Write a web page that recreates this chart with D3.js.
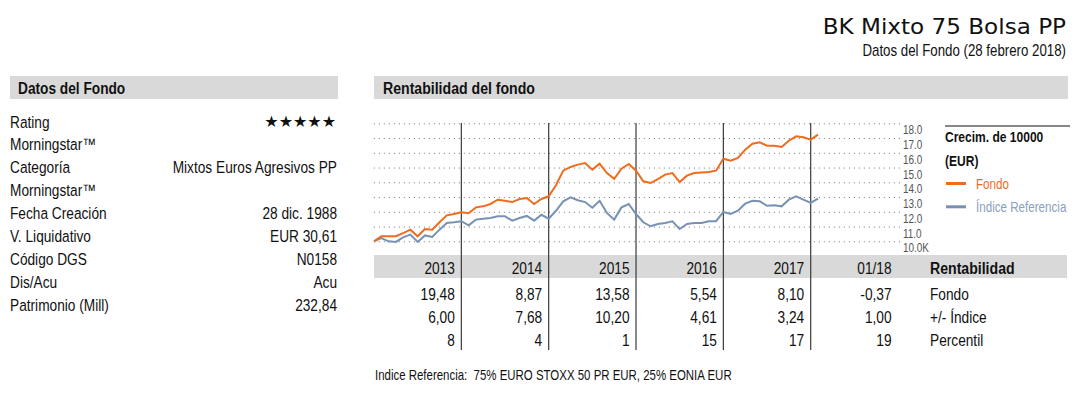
<!DOCTYPE html>
<html>
<head>
<meta charset="utf-8">
<script src="https://cdn.jsdelivr.net/npm/d3@7"></script>
<style>
  body { margin: 0; background: #fff; }
  svg { display: block; }
  text { font-family: "Liberation Sans", Arial, sans-serif; fill: #111; }
</style>
</head>
<body>
<script>
const width = 1082, height = 405;
const NARROW = 0.83; // squeeze Liberation Sans into a narrow face

// growth of 10000 (thousands), month-end values Jan 2013 .. Feb 2018
const fondo = [10.0, 10.34, 10.34, 10.34, 10.56, 10.79, 10.34, 10.83, 10.79, 11.29, 11.76, 11.85,
  11.97, 11.9, 12.3, 12.37, 12.53, 12.82, 12.75, 12.66, 12.87, 12.94, 12.53, 12.87,
  13.05, 13.8, 14.79, 15.04, 15.2, 15.31, 14.86, 15.26, 14.63, 14.24, 14.92, 15.24,
  14.79, 14.07, 13.95, 14.22, 14.52, 14.63, 14.02, 14.45, 14.63, 14.66,
  14.7, 14.79, 15.6, 15.46, 15.65, 16.21, 16.62, 16.71, 16.48, 16.48, 16.39, 16.82,
  17.12, 17.05, 16.89, 17.23];
const indice = [10.0, 10.22, 10.0, 9.96, 10.27, 10.45, 9.96, 10.4, 10.29, 10.79, 11.24, 11.29,
  11.36, 11.08, 11.47, 11.53, 11.58, 11.69, 11.69, 11.4, 11.58, 11.72, 11.4, 11.8,
  11.53, 12.07, 12.71, 12.98, 12.78, 12.66, 12.28, 12.75, 11.92, 11.47, 12.3, 12.53,
  11.85, 11.29, 11.02, 11.17, 11.24, 11.36, 10.83, 11.17, 11.24, 11.24,
  11.36, 11.36, 11.99, 11.85, 12.07, 12.55, 12.75, 12.71, 12.41, 12.44, 12.37, 12.82,
  13.05, 12.82, 12.6, 12.89];
const yTicks = [10, 11, 12, 13, 14, 15, 16, 17, 18];

const periods = ["2013", "2014", "2015", "2016", "2017", "01/18"];
const rentFondo = ["19,48", "8,87", "13,58", "5,54", "8,10", "-0,37"];
const rentIndice = ["6,00", "7,68", "10,20", "4,61", "3,24", "1,00"];
const percentil = ["8", "4", "1", "15", "17", "19"];
const rowLabels = ["Fondo", "+/- Índice", "Percentil"];

const datosLabels = ["Rating", "Morningstar™", "Categoría", "Morningstar™", "Fecha Creación",
  "V. Liquidativo", "Código DGS", "Dis/Acu", "Patrimonio (Mill)"];
const datosValues = ["", "", "Mixtos Euros Agresivos PP", "", "28 dic. 1988",
  "EUR 30,61", "N0158", "Acu", "232,84"];
const rating = "★★★★★";

const orange = "#ef6c1f", blue = "#7892b5";

const svg = d3.select("body").append("svg")
  .attr("width", width).attr("height", height);

// narrow text helper
function nt(g, x, y, str, size, opts = {}) {
  const t = g.append("text")
    .attr("transform", `translate(${x},${y}) scale(${opts.sx || NARROW},1)`)
    .style("font-size", size + "px")
    .text(str);
  if (opts.anchor) t.attr("text-anchor", opts.anchor);
  if (opts.bold) t.style("font-weight", "bold");
  if (opts.fill) t.style("fill", opts.fill);
  if (opts.family) t.style("font-family", opts.family);
  return t;
}

// title
nt(svg, 1066, 34, "BK Mixto 75 Bolsa PP", 21, { anchor: "end", sx: 1.1, family: "'DejaVu Sans', sans-serif" });
nt(svg, 1066, 55.5, "Datos del Fondo (28 febrero 2018)", 16, { anchor: "end" });

// section headers
svg.append("rect").attr("x", 10).attr("y", 76).attr("width", 328).attr("height", 23).attr("fill", "#d9d9d9");
nt(svg, 18, 93.5, "Datos del Fondo", 16.5, { bold: true });
svg.append("rect").attr("x", 374).attr("y", 76).attr("width", 694).attr("height", 23).attr("fill", "#d9d9d9");
nt(svg, 383, 93.5, "Rentabilidad del fondo", 17, { bold: true });

// left panel
const rowY = d3.scaleLinear().domain([0, 8]).range([127.5, 311]);
const left = svg.append("g");
datosLabels.forEach((d, i) => nt(left, 10, rowY(i), d, 16.5));
datosValues.forEach((d, i) => { if (d) nt(left, 337, rowY(i), d, 16.5, { anchor: "end" }); });
left.append("text").attr("x", 336).attr("y", rowY(0) - 0.5).attr("text-anchor", "end")
  .style("font-family", "'DejaVu Sans', sans-serif").style("font-size", "16px").text(rating);

// chart
const x = d3.scaleLinear().domain([0, 60]).range([374, 810.7]);
const y = d3.scaleLinear().domain([10, 18]).range([241.3, 123.3]);

const yAxis = svg.append("g")
  .attr("transform", "translate(900,0)")
  .call(d3.axisRight(y).tickValues(yTicks).tickSize(-527)
    .tickFormat(d => d === 10 ? "10.0K" : d3.format(".1f")(d)));
yAxis.select(".domain").remove();
yAxis.selectAll(".tick line")
  .attr("stroke", "#8a8a8a").attr("stroke-dasharray", "1.2,3.8");
yAxis.selectAll(".tick text")
  .attr("x", 0).attr("dy", 0)
  .attr("transform", `translate(3,10.5) scale(${NARROW},1)`)
  .style("font-size", "12px").style("fill", "#555");

// table header band
svg.append("rect").attr("x", 374).attr("y", 255).attr("width", 693).attr("height", 23).attr("fill", "#d9d9d9");

// year separators
svg.append("g").selectAll("line").data([12, 24, 36, 48, 60]).join("line")
  .attr("x1", d => x(d)).attr("x2", d => x(d))
  .attr("y1", 123).attr("y2", 350)
  .attr("stroke", "#3a3a3a").attr("stroke-width", 1.2);

const line = d3.line().x((d, i) => x(i)).y(d => y(d));
svg.append("path").datum(indice).attr("d", line)
  .attr("fill", "none").attr("stroke", blue).attr("stroke-width", 2);
svg.append("path").datum(fondo).attr("d", line)
  .attr("fill", "none").attr("stroke", orange).attr("stroke-width", 2);

// legend
const lg = svg.append("g");
lg.append("line").attr("x1", 945).attr("x2", 1070).attr("y1", 126).attr("y2", 126)
  .attr("stroke", "#111").attr("stroke-width", 1);
nt(lg, 945, 142, "Crecim. de 10000", 14.5, { bold: true });
nt(lg, 945, 166, "(EUR)", 14.5, { bold: true });
const legendItems = [["Fondo", orange, orange], ["Índice Referencia", blue, "#8aa0c0"]];
legendItems.forEach((it, i) => {
  const yy = 183.5 + i * 23.3;
  lg.append("line").attr("x1", 946).attr("x2", 966).attr("y1", yy).attr("y2", yy)
    .attr("stroke", it[1]).attr("stroke-width", 3);
  nt(lg, 976, yy + 5, it[0], 14, { fill: it[2] });
});

// table
const colRight = (i) => x(12 * (i + 1)) - 6.5;
const tbl = svg.append("g");
periods.forEach((d, i) => nt(tbl, colRight(i), 273.5, d, 16.5, { anchor: "end" }));
nt(tbl, 930, 273.5, "Rentabilidad", 17, { bold: true });
[rentFondo, rentIndice, percentil].forEach((row, r) => {
  const yy = 299.5 + r * 23.3;
  row.forEach((d, i) => nt(tbl, colRight(i), yy, d, 16.5, { anchor: "end" }));
  nt(tbl, 930, yy, rowLabels[r], 16.5);
});

nt(svg, 375, 380, "Indice Referencia:  75% EURO STOXX 50 PR EUR, 25% EONIA EUR", 13.8)
  .style("white-space", "pre");
</script>
</body>
</html>
